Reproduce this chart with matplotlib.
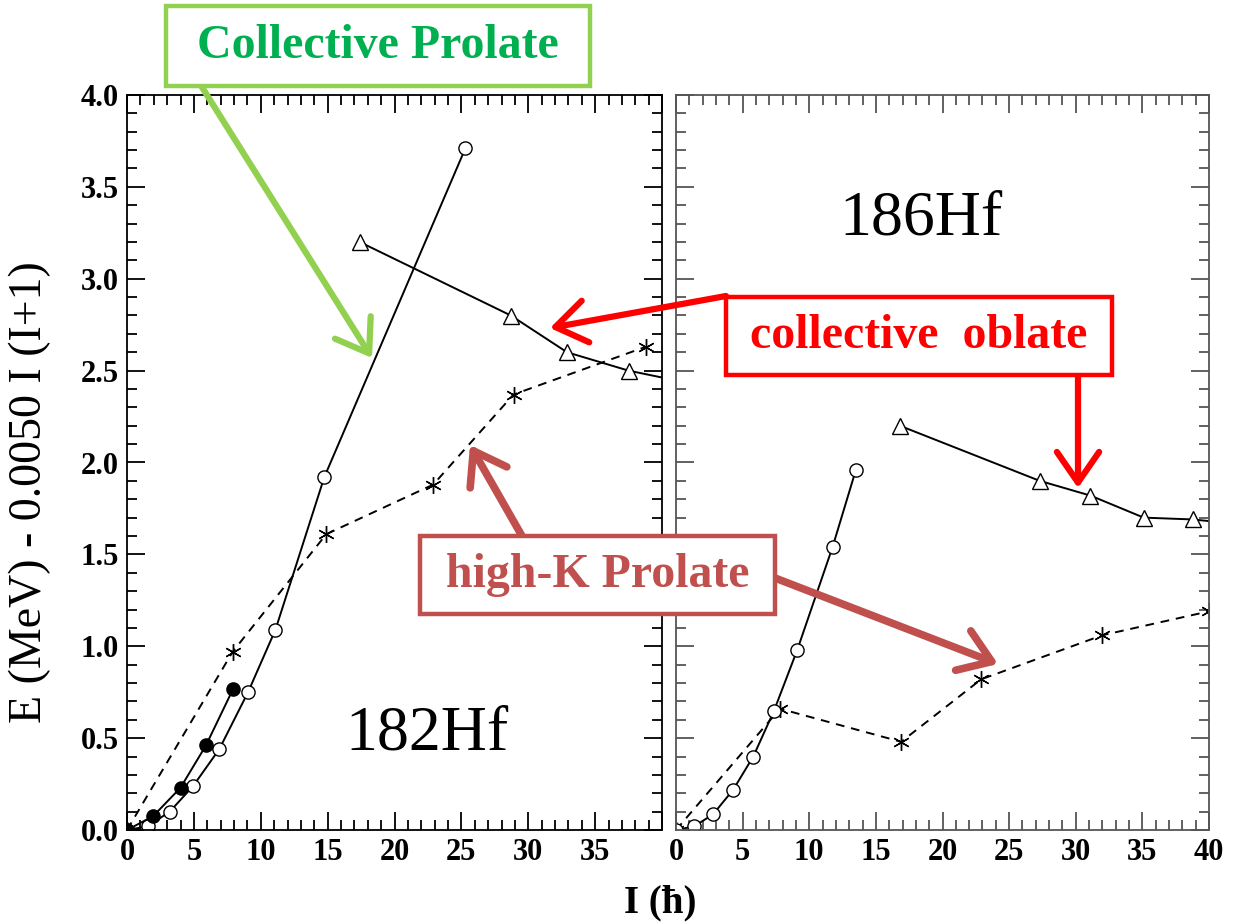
import matplotlib
matplotlib.use("Agg")
import matplotlib.pyplot as plt
from matplotlib.patches import FancyArrowPatch, Rectangle
from matplotlib.ticker import MultipleLocator

plt.rcParams['font.family'] = ['Liberation Serif', 'DejaVu Serif']

# 182Hf (left panel)
hf182_open_I = [0, 1.55, 3.2, 4.95, 6.9, 9.05, 11.1, 14.75, 25.3]
hf182_open_E = [0, 0.02, 0.10, 0.24, 0.44, 0.75, 1.09, 1.92, 3.71]
hf182_full_I = [0, 1.95, 4.0, 5.9, 7.95]
hf182_full_E = [0, 0.075, 0.23, 0.46, 0.77]
hf182_star_I = [0, 7.9, 14.9, 22.9, 28.9, 38.8]
hf182_star_E = [0, 0.97, 1.61, 1.88, 2.37, 2.63]
hf182_tri_I = [17.4, 28.7, 32.9, 37.5, 41.5]
hf182_tri_E = [3.20, 2.80, 2.60, 2.50, 2.44]

# 186Hf (right panel)
hf186_open_I = [0, 1.36, 2.78, 4.3, 5.8, 7.36, 9.1, 11.75, 13.5]
hf186_open_E = [0, 0.02, 0.085, 0.22, 0.40, 0.65, 0.98, 1.54, 1.96]
hf186_star_I = [0, 7.8, 16.9, 22.9, 32.0, 40.0]
hf186_star_E = [0, 0.66, 0.48, 0.82, 1.06, 1.19]
hf186_tri_I = [16.8, 27.3, 31.1, 35.1, 38.8, 41.5]
hf186_tri_E = [2.20, 1.90, 1.82, 1.70, 1.69, 1.67]

W, H = 1233, 922
fig = plt.figure(figsize=(W / 100, H / 100), dpi=100)


def fx(x):
    return x / W


def fy(y):
    return 1 - y / H


axL = fig.add_axes([fx(127), fy(830), fx(662 - 127), fy(95) - fy(830)])
axR = fig.add_axes([fx(676), fy(830), fx(1209 - 676), fy(95) - fy(830)])

asterisk = (6, 2, 0)
lw = 1.4
ms_c = 9.5

# left panel data
axL.plot(hf182_star_I, hf182_star_E, color='k', lw=lw, ls=(0, (4.5, 3.5)),
         marker=asterisk, ms=12, mew=1.0)
axL.plot(hf182_open_I, hf182_open_E, color='k', lw=lw, marker='o', ms=ms_c,
         mfc='white', mec='k', mew=1.0)
axL.plot(hf182_full_I, hf182_full_E, color='k', lw=lw, marker='o', ms=ms_c,
         mfc='k', mec='k')
axL.plot(hf182_tri_I, hf182_tri_E, color='k', lw=lw, marker='^', ms=12,
         mfc='white', mec='k', mew=1.0)

# right panel data
axR.plot(hf186_star_I, hf186_star_E, color='k', lw=lw, ls=(0, (4.5, 3.5)),
         marker=asterisk, ms=12, mew=1.0)
axR.plot(hf186_open_I, hf186_open_E, color='k', lw=lw, marker='o', ms=ms_c,
         mfc='white', mec='k', mew=1.0)
axR.plot(hf186_tri_I, hf186_tri_E, color='k', lw=lw, marker='^', ms=12,
         mfc='white', mec='k', mew=1.0)

for ax, col in ((axL, 'k'), (axR, '#555555')):
    ax.set_xlim(0, 40)
    ax.set_ylim(0, 4.0)
    ax.xaxis.set_major_locator(MultipleLocator(5))
    ax.xaxis.set_minor_locator(MultipleLocator(1))
    ax.yaxis.set_major_locator(MultipleLocator(0.5))
    ax.yaxis.set_minor_locator(MultipleLocator(0.1))
    ax.tick_params(which='both', direction='in', top=True, right=True,
                   colors=col, labelcolor='k', labelsize=22, width=1.3)
    ax.tick_params(which='major', length=13, pad=6)
    ax.tick_params(which='minor', length=7)
    for s in ax.spines.values():
        s.set_color(col)
        s.set_linewidth(1.3)

axL.set_xticks([0, 5, 10, 15, 20, 25, 30, 35, 40])
axL.set_xticklabels(['0', '5', '10', '15', '20', '25', '30', '35', ''],
                    fontweight='bold')
axL.set_yticks([0, 0.5, 1.0, 1.5, 2.0, 2.5, 3.0, 3.5, 4.0])
axL.set_yticklabels(['%.1f' % v for v in axL.get_yticks()], fontweight='bold')
axR.set_yticklabels([])
axR.set_xticks([0, 5, 10, 15, 20, 25, 30, 35, 40])
axR.set_xticklabels(['%d' % v for v in axR.get_xticks()], fontweight='bold')

axL.text(0.56, 0.13, '182Hf', transform=axL.transAxes, fontsize=46,
         ha='center', va='center')
axR.text(0.46, 0.83, '186Hf', transform=axR.transAxes, fontsize=46,
         ha='center', va='center')

fig.text(fx(30), fy(492), 'E (MeV) - 0.0050 I (I+1)', rotation=90,
         fontsize=33, ha='center', va='center')
fig.text(fx(660), fy(903), 'I (\u0127)', fontsize=28, fontweight='bold',
         ha='center', va='center')


def box(x0, y0, x1, y1, color, text, tcolor):
    fig.add_artist(Rectangle((fx(x0), fy(y1)), fx(x1 - x0), fy(y0) - fy(y1),
                             transform=fig.transFigure, fill=True, fc='white',
                             ec=color, lw=3.2, zorder=10))
    fig.text(fx((x0 + x1) / 2), fy((y0 + y1) / 2), text, color=tcolor,
             fontsize=34.5, fontweight='bold', ha='center', va='center',
             zorder=11)


def arrow(p0, p1, color, width=4.5):
    fig.add_artist(FancyArrowPatch((fx(p0[0]), fy(p0[1])), (fx(p1[0]), fy(p1[1])),
                                   transform=fig.transFigure,
                                   arrowstyle='->,head_length=0.55,head_width=0.38',
                                   mutation_scale=40, color=color, lw=width,
                                   capstyle='round', joinstyle='round',
                                   shrinkA=0, shrinkB=0, zorder=9))


green_edge = '#92d050'
green_text = '#00b050'
red = '#ff0000'
brown = '#c0504d'

arrow((200, 84), (372, 358), green_edge)
box(166, 6, 590, 86, green_edge, 'Collective Prolate', green_text)

arrow((726, 296), (550, 328), red)
arrow((1078, 374), (1078, 488), red)
box(726, 297, 1112, 375, red, 'collective  oblate', red)

arrow((522, 536), (470, 445), brown, 5.5)
arrow((775, 578), (998, 664), brown, 5.5)
box(420, 536, 775, 614, brown, 'high-K Prolate', brown)

fig.savefig('out.png', dpi=100)
